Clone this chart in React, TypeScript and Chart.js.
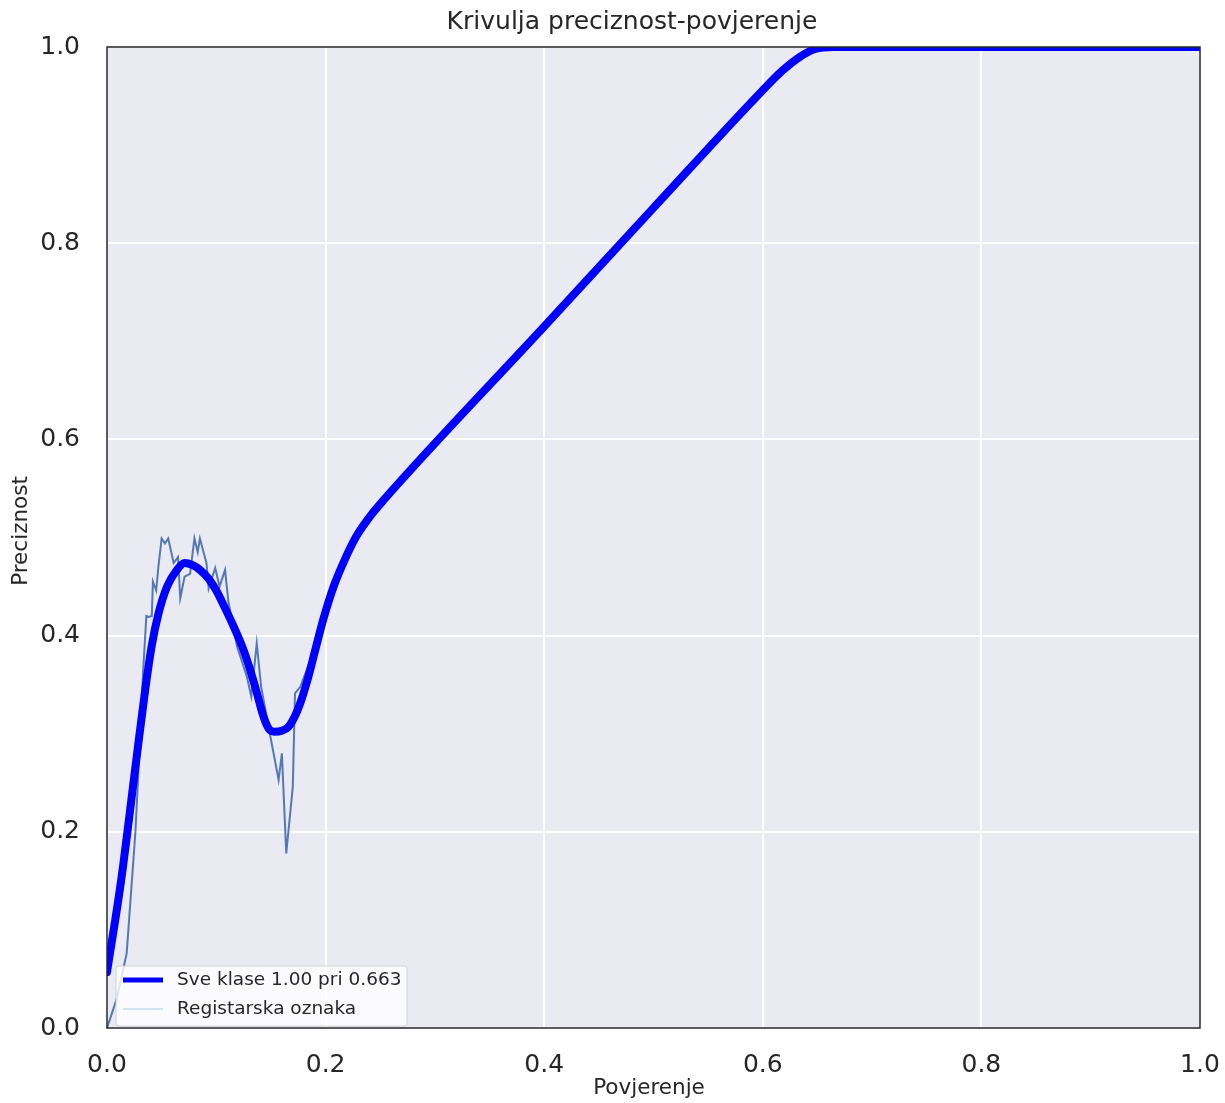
import React, { useEffect, useRef } from "react";
import { Chart, registerables } from "chart.js";

Chart.register(...registerables);

// ---- data ----
const allClassesConf = [
  0, 0.013, 0.027, 0.035, 0.041, 0.047, 0.055, 0.064, 0.071, 0.078, 0.085, 0.093, 0.1, 0.108, 0.116,
  0.124, 0.131, 0.137, 0.143, 0.148, 0.153, 0.16, 0.166, 0.172, 0.178, 0.184, 0.19, 0.198, 0.207,
  0.219, 0.228, 0.241, 0.253, 0.4, 0.5, 0.6, 0.618, 0.634, 0.648, 0.665, 0.7, 1.0,
];
const allClassesPrec = [
  0.057, 0.151, 0.275, 0.345, 0.39, 0.422, 0.45, 0.467, 0.474, 0.472, 0.467, 0.458, 0.446, 0.428, 0.409,
  0.388, 0.365, 0.342, 0.318, 0.305, 0.302, 0.303, 0.307, 0.318, 0.335, 0.357, 0.383, 0.417, 0.449,
  0.481, 0.501, 0.522, 0.538, 0.715, 0.836, 0.956, 0.976, 0.99, 0.998, 1.0, 1.0, 1.0,
];
const plateConf = [
  0, 0.009, 0.018, 0.026, 0.03, 0.033, 0.036, 0.038, 0.041, 0.042, 0.045, 0.047, 0.05, 0.053, 0.056,
  0.061, 0.065, 0.067, 0.071, 0.076, 0.08, 0.083, 0.085, 0.091, 0.093, 0.099, 0.103, 0.108, 0.111,
  0.119, 0.128, 0.132, 0.137, 0.141, 0.149, 0.157, 0.16, 0.164, 0.17, 0.172, 0.177, 0.186, 0.195,
  0.205, 0.215, 0.222, 0.233, 0.245, 0.4, 0.5, 0.6, 0.618, 0.634, 0.648, 0.665, 1.0,
];
const platePrec = [
  0, 0.03, 0.076, 0.2, 0.29, 0.362, 0.42, 0.419, 0.42, 0.455, 0.446, 0.47, 0.499, 0.494, 0.499,
  0.474, 0.48, 0.438, 0.46, 0.463, 0.499, 0.485, 0.499, 0.474, 0.448, 0.469, 0.45, 0.467, 0.435,
  0.389, 0.358, 0.338, 0.392, 0.348, 0.3, 0.253, 0.28, 0.178, 0.246, 0.341, 0.348, 0.375, 0.405,
  0.443, 0.472, 0.488, 0.507, 0.527, 0.715, 0.836, 0.956, 0.976, 0.99, 0.998, 1.0, 1.0,
];
const axisTicks = [0, 0.2, 0.4, 0.6, 0.8, 1.0];
const seriesLabels = ["Sve klase 1.00 pri 0.663", "Registarska oznaka"];
const titleText = "Krivulja preciznost-povjerenje";
const xLabel = "Povjerenje";
const yLabel = "Preciznost";

const FONT = "'DejaVu Sans', 'Liberation Sans', sans-serif";
const TEXT = "#262626";

const decorations = {
  id: "decorations",
  beforeDraw(chart: any) {
    const { ctx, chartArea: a } = chart;
    ctx.save();
    ctx.fillStyle = "#EAEAF2";
    ctx.fillRect(a.left, a.top, a.right - a.left, a.bottom - a.top);
    ctx.restore();
  },
  afterDraw(chart: any) {
    const { ctx, chartArea: a } = chart;
    ctx.save();
    // frame
    ctx.strokeStyle = TEXT;
    ctx.lineWidth = 1.5;
    ctx.strokeRect(a.left, a.top, a.right - a.left, a.bottom - a.top);
    // title
    ctx.fillStyle = TEXT;
    ctx.textAlign = "center";
    ctx.textBaseline = "middle";
    ctx.font = `25px ${FONT}`;
    ctx.fillText(titleText, 632, 22);
    // axis labels
    ctx.font = `21.5px ${FONT}`;
    ctx.fillText(xLabel, 649, 1088);
    ctx.save();
    ctx.translate(21, 531);
    ctx.rotate(-Math.PI / 2);
    ctx.fillText(yLabel, 0, 0);
    ctx.restore();
    // legend
    const bx = 116, by = 966, bw = 291, bh = 60;
    ctx.fillStyle = "rgba(255,255,255,0.8)";
    ctx.strokeStyle = "rgba(204,204,204,0.8)";
    ctx.lineWidth = 1;
    ctx.beginPath();
    (ctx as any).roundRect ? (ctx as any).roundRect(bx, by, bw, bh, 3) : ctx.rect(bx, by, bw, bh);
    ctx.fill();
    ctx.stroke();
    ctx.lineCap = "butt";
    ctx.strokeStyle = "#0000FF";
    ctx.lineWidth = 5;
    ctx.beginPath();
    ctx.moveTo(123, 980);
    ctx.lineTo(163, 980);
    ctx.stroke();
    ctx.strokeStyle = "#a9cce6";
    ctx.lineWidth = 1;
    ctx.beginPath();
    ctx.moveTo(123, 1009);
    ctx.lineTo(163, 1009);
    ctx.stroke();
    ctx.fillStyle = TEXT;
    ctx.textAlign = "left";
    ctx.font = `18.5px ${FONT}`;
    ctx.fillText(seriesLabels[0], 177, 980);
    ctx.fillText(seriesLabels[1], 177, 1009);
    ctx.restore();
  },
};

export default function App() {
  const ref = useRef<HTMLCanvasElement | null>(null);
  useEffect(() => {
    if (!ref.current) return;
    const chart = new Chart(ref.current, {
      type: "line",
      data: {
        datasets: [
          {
            label: seriesLabels[0],
            data: allClassesConf.map((x, i) => ({ x, y: allClassesPrec[i] })),
            borderColor: "#0000FF",
            borderWidth: 8,
            pointRadius: 0,
            cubicInterpolationMode: "monotone",
            borderJoinStyle: "round",
            borderCapStyle: "round",
          },
          {
            label: seriesLabels[1],
            data: plateConf.map((x, i) => ({ x, y: platePrec[i] })),
            borderColor: "rgba(76,114,176,0.95)",
            borderWidth: 2,
            pointRadius: 0,
            tension: 0,
          },
        ],
      },
      options: {
        animation: false,
        responsive: false,
        devicePixelRatio: 1,
        layout: { padding: { top: 47, right: 25, left: 0, bottom: 0 } },
        plugins: { legend: { display: false }, title: { display: false }, tooltip: { enabled: false } },
        scales: {
          x: {
            type: "linear",
            min: 0,
            max: 1,
            afterFit: (s: any) => {
              s.height = 75;
              s.paddingLeft = 0;
              s.paddingRight = 0;
            },
            afterBuildTicks: (s: any) => {
              s.ticks = axisTicks.map((v) => ({ value: v }));
            },
            grid: { color: "#FFFFFF", lineWidth: 2, drawTicks: false },
            border: { display: false },
            ticks: {
              padding: 22,
              autoSkip: false,
              maxRotation: 0,
              color: TEXT,
              font: { family: FONT, size: 25 },
              callback: (v: any) => Number(v).toFixed(1),
            },
          },
          y: {
            type: "linear",
            min: 0,
            max: 1,
            afterFit: (s: any) => {
              s.width = 107;
              s.paddingTop = 0;
              s.paddingBottom = 0;
            },
            afterBuildTicks: (s: any) => {
              s.ticks = axisTicks.map((v) => ({ value: v }));
            },
            grid: { color: "#FFFFFF", lineWidth: 2, drawTicks: false },
            border: { display: false },
            ticks: {
              padding: 27,
              color: TEXT,
              font: { family: FONT, size: 25 },
              callback: (v: any) => Number(v).toFixed(1),
            },
          },
        },
      },
      plugins: [decorations],
    } as any);
    return () => chart.destroy();
  }, []);
  return (
    <div style={{ position: "fixed", left: 0, top: 0, width: 1225, height: 1103, background: "#fff" }}>
      <canvas ref={ref} width={1225} height={1103} style={{ display: "block" }} />
    </div>
  );
}
